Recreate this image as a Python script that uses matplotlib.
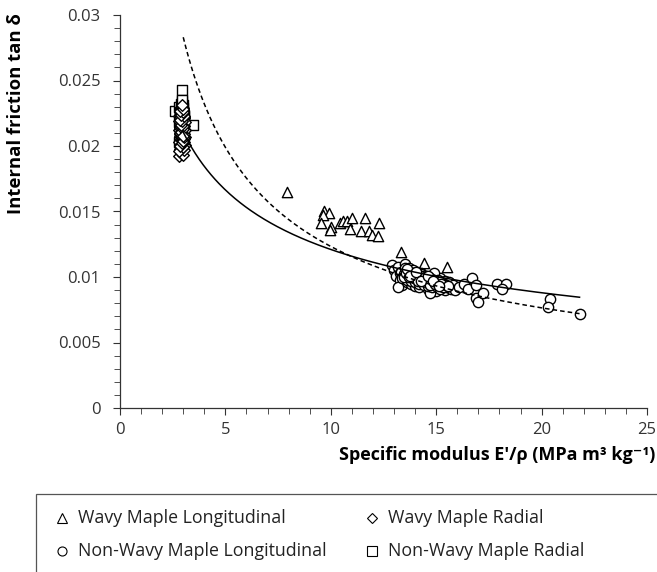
import matplotlib
matplotlib.use('Agg')
import matplotlib.pyplot as plt
import numpy as np
from matplotlib.lines import Line2D
from matplotlib.patches import Rectangle
from matplotlib.ticker import MultipleLocator, FuncFormatter

plt.rcParams['font.family'] = ['Open Sans', 'DejaVu Sans']

# Wavy maple, longitudinal (triangles)
tri_x = [7.9, 9.7, 9.9, 9.65, 9.55, 10.0, 9.95, 10.45, 10.6, 10.75, 11.0, 11.6,
         10.9, 11.45, 11.8, 11.95, 12.3, 12.25, 13.35, 14.4, 15.5, 13.8, 14.1]
tri_y = [0.0165, 0.0150, 0.0149, 0.0147, 0.0141, 0.0138, 0.0136, 0.0141, 0.0143,
         0.0143, 0.0145, 0.0145, 0.0137, 0.0135, 0.0135, 0.0132, 0.0141, 0.0131,
         0.0119, 0.0111, 0.0108, 0.0105, 0.0103]

# Wavy maple, radial (diamonds)
dia_x = [2.8, 2.9, 3.0, 2.85, 2.95, 3.05, 2.8, 2.9, 3.0, 2.85, 2.95, 3.1, 2.8, 2.9,
         3.0, 2.85, 2.95, 3.05, 2.9, 3.0, 2.8, 2.95, 3.05, 2.85, 2.9, 3.0, 2.95,
         2.85, 3.1, 2.9, 3.0, 2.8,
         2.82, 2.88, 2.92, 2.98, 3.02, 3.08, 2.84, 2.9, 2.96, 3.04, 2.86, 2.94, 3.0,
         3.06, 2.88, 2.92, 2.98, 3.02, 2.84, 2.96, 3.0, 2.9, 2.94, 3.04, 2.86,
         2.87, 2.93, 2.99, 3.03, 2.83, 2.91, 2.97, 3.01, 2.89, 2.95, 2.85, 3.05,
         2.91, 2.97, 2.87, 3.01, 2.93, 2.99]
dia_y = [0.0192, 0.0195, 0.0193, 0.0198, 0.0200, 0.0197, 0.0203, 0.0205, 0.0202,
         0.0208, 0.0210, 0.0207, 0.0212, 0.0214, 0.0211, 0.0216, 0.0218, 0.0215,
         0.0220, 0.0222, 0.0219, 0.0224, 0.0221, 0.0226, 0.0228, 0.0225, 0.0213,
         0.0209, 0.0201, 0.0199, 0.0217, 0.0223,
         0.0196, 0.0201, 0.0204, 0.0206, 0.0209, 0.0212, 0.0214, 0.0217, 0.0219,
         0.0222, 0.0224, 0.0227, 0.0229, 0.0218, 0.0211, 0.0207, 0.0215, 0.0203,
         0.0221, 0.0225, 0.0199, 0.0213, 0.0230, 0.0205, 0.0217,
         0.0200, 0.0202, 0.0204, 0.0207, 0.0210, 0.0211, 0.0213, 0.0215, 0.0216,
         0.0219, 0.0220, 0.0223, 0.0224, 0.0226, 0.0227, 0.0228, 0.0231, 0.0208]

# Non-wavy maple, longitudinal (circles)
cir_x = [12.9, 13.0, 13.1, 13.2, 13.3, 13.3, 13.4, 13.5, 13.5, 13.6, 13.6, 13.7,
         13.7, 13.8, 13.8, 13.9, 13.9, 14.0, 14.0, 14.1, 14.1, 14.2, 14.2, 14.3,
         14.3, 14.4, 14.5, 14.5, 14.6, 14.6, 14.7, 14.8, 14.8, 14.9, 15.0, 15.0,
         15.1, 15.2, 15.2, 15.3, 15.4, 15.4, 15.5, 15.6, 15.7, 15.8, 15.9, 16.1,
         16.3, 16.5, 16.7, 16.9, 16.9, 17.0, 17.2, 17.9, 18.3, 18.1, 20.4, 20.3,
         21.8, 14.9, 13.2, 14.7,
         13.35, 13.45, 13.55, 13.65, 13.75, 13.85, 13.95, 14.05, 14.15, 14.25, 14.35,
         14.45, 14.55, 14.65, 14.75, 14.85, 14.95, 15.05, 15.15, 15.25, 15.35, 15.45,
         13.4, 13.6, 13.8, 14.0, 14.2, 14.4, 14.6, 14.8, 15.0, 15.2, 15.4, 13.5, 13.9,
         14.3, 14.7, 15.1,
         13.45, 13.55, 13.7, 13.85, 13.95, 14.1, 14.2, 14.35, 14.5, 14.6, 14.75,
         14.9, 15.05, 15.2, 15.3, 15.45, 13.6, 13.9, 14.15, 14.45, 14.7, 14.95,
         15.25, 15.55, 13.75, 14.05, 14.3, 14.6, 14.85, 15.15]
cir_y = [0.0109, 0.0105, 0.0101, 0.0108, 0.0098, 0.0103, 0.0094, 0.0110, 0.0100,
         0.0096, 0.0104, 0.0107, 0.0099, 0.0102, 0.0095, 0.0105, 0.0098, 0.0101,
         0.0093, 0.0104, 0.0097, 0.0100, 0.0092, 0.0103, 0.0096, 0.0099, 0.0094,
         0.0101, 0.0097, 0.0091, 0.0100, 0.0095, 0.0098, 0.0093, 0.0097, 0.0089,
         0.0095, 0.0092, 0.0099, 0.0094, 0.0090, 0.0097, 0.0093, 0.0096, 0.0091,
         0.0094, 0.0090, 0.0092, 0.0095, 0.0091, 0.0099, 0.0094, 0.0084, 0.0081,
         0.0088, 0.0095, 0.0095, 0.0091, 0.0083, 0.0077, 0.0072, 0.0103, 0.0092,
         0.0088,
         0.0104, 0.0102, 0.0105, 0.0101, 0.0103, 0.0100, 0.0102, 0.0099, 0.0101,
         0.0098, 0.0100, 0.0097, 0.0099, 0.0096, 0.0098, 0.0095, 0.0097, 0.0094,
         0.0096, 0.0093, 0.0095, 0.0092, 0.0099, 0.0098, 0.0097, 0.0096, 0.0095,
         0.0094, 0.0093, 0.0092, 0.0093, 0.0091, 0.0094, 0.0107, 0.0103, 0.0102,
         0.0099, 0.0098,
         0.0100, 0.0103, 0.0100, 0.0103, 0.0099, 0.0102, 0.0098, 0.0101, 0.0096,
         0.0099, 0.0096, 0.0098, 0.0095, 0.0096, 0.0092, 0.0094, 0.0106, 0.0100,
         0.0097, 0.0100, 0.0094, 0.0095, 0.0095, 0.0093, 0.0101, 0.0104, 0.0097,
         0.0101, 0.0097, 0.0093]

# Non-wavy maple, radial (squares)
sq_x = [2.95, 2.95, 2.6, 3.45, 2.8, 2.9, 3.0, 2.85, 2.95, 3.05, 2.8, 2.9, 3.0,
        2.85, 2.95, 2.9, 3.0, 2.8, 3.05, 2.85, 2.9, 3.0,
        2.9, 2.98, 2.86, 3.02, 2.92, 2.96, 2.88, 3.04, 2.94, 2.9, 2.84, 3.0, 2.96,
        2.92, 2.87, 2.99, 2.93, 3.01, 2.89, 2.97]
sq_y = [0.0243, 0.0234, 0.0227, 0.0216, 0.0230, 0.0228, 0.0226, 0.0224, 0.0221,
        0.0219, 0.0218, 0.0216, 0.0213, 0.0211, 0.0208, 0.0205, 0.0210, 0.0203,
        0.0223, 0.0214, 0.0220, 0.0231,
        0.0232, 0.0229, 0.0226, 0.0224, 0.0221, 0.0218, 0.0215, 0.0212, 0.0209,
        0.0206, 0.0201, 0.0217, 0.0235, 0.0228, 0.0222, 0.0220, 0.0212, 0.0207,
        0.0203, 0.0225]

# power-law trend lines  y = a * x^b
solid_a, solid_b = 0.0349, -0.46
dash_a, dash_b = 0.0604, -0.69
fit_start, fit_end = 3.0, 21.8

fig = plt.figure(figsize=(6.57, 5.72), dpi=100)
ax = fig.add_axes([120/657, 1-408/572, 527/657, 393/572])

mk = dict(facecolors='white', edgecolors='black', linewidths=1.0, s=55)
ax.scatter(sq_x, sq_y, marker='s', **mk)
ax.scatter(dia_x, dia_y, marker='D', **dict(mk, s=35))
ax.scatter(tri_x, tri_y, marker='^', **mk)
ax.scatter(cir_x, cir_y, marker='o', **mk)

xf = np.linspace(fit_start, fit_end, 300)
ax.plot(xf, solid_a * xf**solid_b, color='black', lw=1.1)
ax.plot(xf, dash_a * xf**dash_b, color='black', lw=1.1, linestyle=(0, (3, 2)))

ax.set_xlim(0, 25)
ax.set_ylim(0, 0.03)
ax.xaxis.set_major_locator(MultipleLocator(5))
ax.xaxis.set_minor_locator(MultipleLocator(1))
ax.yaxis.set_major_locator(MultipleLocator(0.005))
ax.yaxis.set_minor_locator(MultipleLocator(0.001))
ax.yaxis.set_major_formatter(FuncFormatter(lambda v, p: f"{v:g}"))
for s in ['top', 'right']:
    ax.spines[s].set_visible(False)
for s in ['left', 'bottom']:
    ax.spines[s].set_color('#333333')
    ax.spines[s].set_linewidth(0.9)
ax.tick_params(which='both', direction='out', color='#333333', labelsize=12,
               labelcolor='#333333')
ax.tick_params(which='major', length=5)
ax.tick_params(which='minor', length=4)
ax.tick_params(axis='x', pad=5)
ax.tick_params(axis='y', pad=9)

fig.text(16/657, 1-114/572, 'Internal friction tan δ', rotation=90, ha='center',
         va='center', fontsize=13.3, fontweight='bold')
fig.text(497/657, 1-455/572, "Specific modulus E'/ρ (MPa m³ kg⁻¹)", ha='center',
         va='center', fontsize=13, fontweight='bold')

# legend box (runs off the right and bottom edge)
fig.add_artist(Rectangle((36/657, -0.1), 1.0, 0.1 + 1-494/572, transform=fig.transFigure,
                         facecolor='none', edgecolor='#555555', linewidth=0.9))
entries = [(62, 518, '^', 'Wavy Maple Longitudinal'),
           (372, 518, 'D', 'Wavy Maple Radial'),
           (62, 551, 'o', 'Non-Wavy Maple Longitudinal'),
           (372, 551, 's', 'Non-Wavy Maple Radial')]
for mx, my, m, lab in entries:
    fig.add_artist(Line2D([mx/657], [1-my/572], transform=fig.transFigure, marker=m,
                          markersize=6.5 if m != 'D' else 5, markerfacecolor='white',
                          markeredgecolor='black', markeredgewidth=0.8, linestyle='none'))
    fig.text((mx+16)/657, 1-my/572, lab, ha='left', va='center', fontsize=12.8,
             color='#222222')

plt.savefig('out.png', dpi=100)
plt.close()
